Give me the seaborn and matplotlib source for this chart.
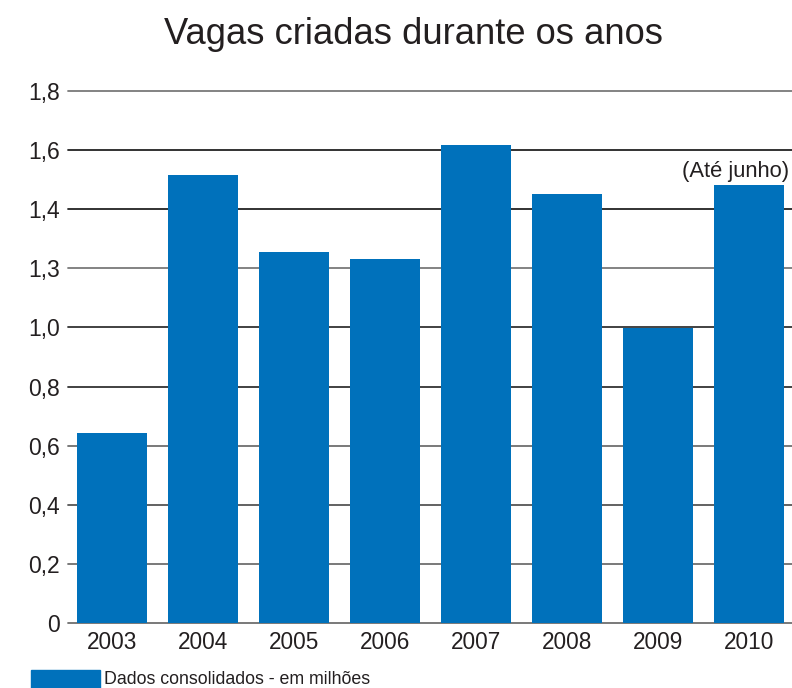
import matplotlib
matplotlib.use("Agg")
import matplotlib.pyplot as plt
import seaborn as sns
import pandas as pd
from matplotlib.patches import Rectangle

# data (millions of jobs)
years = ["2003", "2004", "2005", "2006", "2007", "2008", "2009", "2010"]
vagas = [0.643, 1.516, 1.255, 1.231, 1.617, 1.451, 0.998, 1.482]
ytick_values = [0, 0.2, 0.4, 0.6, 0.8, 1.0, 1.2, 1.4, 1.6, 1.8]
ytick_labels = ["0", "0,2", "0,4", "0,6", "0,8", "1,0", "1,3", "1,4", "1,6", "1,8"]

blue = "#0071bb"
text_col = "#231f20"

sns.set_style("white")
plt.rcParams["font.family"] = ["Liberation Sans", "DejaVu Sans"]

df = pd.DataFrame({"Ano": years, "Vagas": vagas})

fig = plt.figure(figsize=(7.92, 6.88), dpi=100)
ax = fig.add_axes([68 / 792, 65 / 688, 724 / 792, 532 / 688])

# grid lines behind the bars
grid_colors = ["#6e6e6e", "#6e6e6e", "#555555", "#6e6e6e", "#333333",
               "#333333", "#7a7a7a", "#222222", "#222222", "#7a7a7a"]
for yv, c in zip(ytick_values, grid_colors):
    ax.axhline(yv, color=c, lw=1.3, zorder=0, clip_on=False)

sns.barplot(data=df, x="Ano", y="Vagas", color=blue, saturation=1,
            width=0.77, linewidth=0, ax=ax, zorder=2)

ax.set_xlim(-0.484, 7.47)
ax.set_ylim(0, 1.8)
ax.set_yticks(ytick_values)
ax.set_yticklabels(ytick_labels, fontsize=16.5, color=text_col)
ax.tick_params(axis="y", length=0, pad=6)
ax.tick_params(axis="x", length=0, pad=6, labelsize=16.3, labelcolor=text_col)
ax.set_xlabel("")
ax.set_ylabel("")
for s in ax.spines.values():
    s.set_visible(False)

# note over the last bar
fig.text(789 / 792, 1 - 171 / 688, "(Até junho)", ha="right", va="center",
         fontsize=15.8, color=text_col)

fig.suptitle("Vagas criadas durante os anos", x=413 / 792, y=1 - 35 / 688,
             va="center", fontsize=26.2, color=text_col)

# legend at the bottom
fig.add_artist(Rectangle((31 / 792, 0), 69 / 792, 18 / 688,
                         transform=fig.transFigure, color=blue))
fig.text(104 / 792, 9 / 688, "Dados consolidados - em milhões",
         ha="left", va="center", fontsize=12.8, color=text_col)

fig.savefig("out.png", dpi=100)
